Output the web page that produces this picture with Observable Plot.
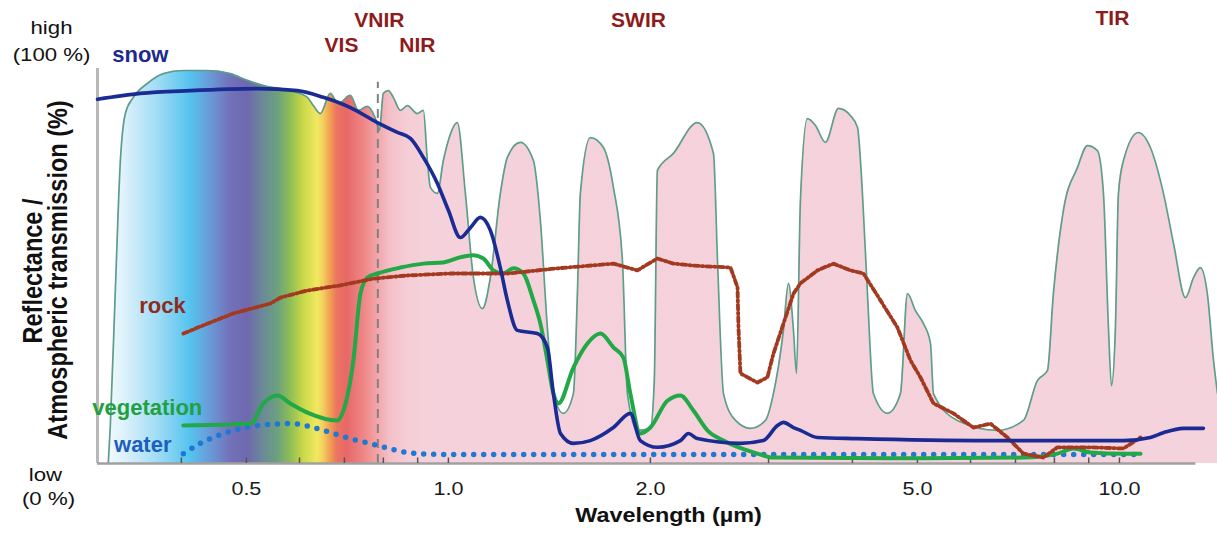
<!DOCTYPE html>
<html><head><meta charset="utf-8">
<script src="https://cdn.jsdelivr.net/npm/d3@7"></script>
<script src="https://cdn.jsdelivr.net/npm/@observablehq/plot@0.6"></script>
<style>
body{margin:0;background:#fff;}
#chart{width:1217px;height:533px;}
</style></head><body><div id="chart"></div>
<script>
// ---------- data (wavelength in µm, value in % of full scale) ----------
const transWl = [0.3113,0.3134,0.3188,0.3245,0.3301,0.3393,0.3559,0.3760,0.4028,0.4372,0.4733,0.5017,0.5300,0.5813,0.6164,0.6292,0.6444,0.6669,0.6857,0.7144,0.7342,0.7573,0.7785,0.7893,0.8000,0.8139,0.8279,0.8480,0.8688,0.8991,0.9178,0.9304,0.9401,0.9630,0.9829,1.000,1.0313,1.0600,1.0896,1.1238,1.1550,1.1953,1.2243,1.2802,1.3387,1.3712,1.4045,1.4338,1.4839,1.5357,1.5569,1.5729,1.6278,1.7022,1.7616,1.8169,1.8484,1.9128,2.000,2.027,2.0487,2.1643,2.3496,2.4834,2.5178,2.5701,2.6783,2.8184,2.9677,3.0506,3.1570,3.2118,3.2677,3.3014,3.3467,3.4277,3.5231,3.6462,3.8131,3.9720,4.0700,4.1400,4.2120,4.2990,4.5114,4.7171,4.8323,4.966,5.105,5.229,5.283,5.735,6.579,7.193,7.546,7.810,7.972,8.251,8.657,8.960,9.272,9.466,9.630,9.730,9.863,9.966,10.14,10.67,11.12,11.63,12.04,12.54,12.90,13.20,13.52,13.81,14.0];
const transVal = [0,9.1,43.0,76.7,88.6,92.7,96.2,98.7,99.5,99.5,98.7,97.0,95.7,94.4,92.7,90.6,88.6,93.7,91.1,93.2,89.4,90.4,87.3,84.3,93.7,94.4,92.7,89.4,90.6,88.6,89.4,76.7,69.9,68.4,76.7,81.8,86.3,68.4,47.1,39.2,47.1,68.4,77.5,81.3,76.7,61.5,34.4,17.7,12.7,17.7,43.0,68.4,82.5,80.0,69.9,51.4,17.7,8.4,8.9,21.0,74.2,78.5,86.3,78.5,51.4,17.7,10.9,8.9,10.9,17.7,33.7,45.6,33.7,22.8,66.6,87.3,85.6,81.3,89.9,88.1,85.1,68.4,43.0,17.7,12.7,17.7,43.0,38.7,35.4,30.4,17.7,10.9,8.4,10.9,21.0,23.5,43.0,64.1,74.9,80.5,79.2,68.4,34.4,19.7,34.4,68.4,76.7,83.8,80.0,68.4,55.7,42.0,47.1,49.6,43.0,26.1,17.7];

const snowWl = [0.300,0.3475,0.4126,0.5192,0.5957,0.6511,0.7144,0.7838,0.8395,0.8778,0.9178,0.9630,1.000,1.042,1.0784,1.116,1.155,1.195,1.2243,1.2670,1.357,1.4045,1.4338,1.469,1.5357,1.6278,1.7616,1.8670,1.932,2.0487,2.217,2.279,2.3496,2.724,2.947,3.093,3.157,3.2677,3.3467,3.548,4.070,6.424,10.14,11.12,11.63,12.46,13.34];
const snowVal = [92.2,93.7,94.4,94.9,94.4,92.7,90.1,86.3,83.8,82.3,77.5,70.9,64.1,57.2,59.7,62.3,59.0,49.6,41.3,33.7,32.9,29.4,17.7,7.6,5.1,5.8,9.1,12.7,5.8,4.1,5.8,7.6,6.3,5.1,5.8,9.6,10.4,9.1,8.4,6.6,6.3,5.8,5.8,6.6,7.8,8.9,8.9];

const vegWl = [0.4028,0.5069,0.5300,0.5562,0.5813,0.6164,0.6831,0.6975,0.7218,0.7395,0.7573,0.7838,0.8480,0.9178,0.9829,1.042,1.0896,1.1276,1.1670,1.2078,1.2500,1.2935,1.3387,1.3712,1.4045,1.4338,1.4586,1.5357,1.6114,1.685,1.7616,1.8231,1.8670,1.932,2.000,2.1205,2.217,2.318,2.432,2.5701,2.887,3.0506,4.558,7.193,8.084,8.538,9.055,10.14,10.75];
const vegVal = [9.6,10.1,15.2,17.2,15.2,12.9,10.9,13.4,26.1,43.0,47.1,48.1,49.6,50.6,50.9,52.2,52.7,51.9,48.9,48.1,49.4,48.1,41.3,35.4,26.1,17.7,15.2,24.3,30.4,32.9,29.4,26.8,17.7,7.6,9.1,15.9,17.2,13.4,8.4,5.8,2.5,1.5,1.3,1.5,2.5,3.8,2.8,2.5,2.5];

const rockWl = [0.4028,0.4372,0.4783,0.5429,0.5618,0.6164,0.6902,0.7730,0.8688,1.0069,1.2243,1.4537,1.7616,1.9128,2.0487,2.1643,2.318,2.633,2.697,2.706,2.724,2.887,2.988,3.0506,3.157,3.2677,3.3467,3.548,3.748,3.972,4.155,4.404,4.669,4.882,5.052,5.283,5.656,6.060,6.424,6.808,7.193,7.703,8.084,9.055,10.14,10.75];
const rockVal = [32.9,35.4,38.0,40.5,42.0,43.8,45.1,46.8,47.6,48.1,48.1,49.4,50.6,48.9,51.9,50.6,50.1,49.6,44.6,34.4,22.8,20.5,21.8,27.8,35.4,43.0,45.6,48.9,50.6,48.9,48.1,41.3,34.4,26.1,21.8,15.2,12.7,9.1,10.1,6.6,2.5,1.5,4.1,4.1,3.8,6.6];

const waterWl = [0.4028,0.4270,0.4623,0.5192,0.5813,0.6511,0.7144,0.7838,0.8688,0.973,2.0,5.0,10.75];
const waterVal = [2.5,5.1,7.6,9.6,10.1,8.4,6.3,4.6,2.8,2.3,2.3,2.3,2.3];

const curveNames = ["snow","rock","vegetation","water"];
const curveLabelWl = [0.3475,0.3748,0.3559,0.3504];
const curveLabelVal = [101.6,38.2,12.2,2.8];

const bandTop = ["VNIR","SWIR","TIR"];
const bandTopWl = [0.789,1.920,9.763];
const bandTopVal = [110.5,110.5,111.1];
const bandLow = ["VIS","NIR"];
const bandLowWl = [0.693,0.899];
const bandLowVal = [104.1,104.1];

const vnirBoundary = [0.785];
const tickValues = [0.4,0.5,0.6,0.7,0.8,0.9,1,2,3,4,5,6,7,8,9,10];
const tickLabelValues = [0.5,1,2,5,10];
const tickLabels = ["0.5","1.0","2.0","5.0","10.0"];

// ---------- tables ----------
const zip = (xs, ys) => xs.map((x, i) => ({wl: x, v: ys[i]}));
const trans = zip(transWl, transVal);
const snow = zip(snowWl, snowVal);
const veg = zip(vegWl, vegVal);
const rock = zip(rockWl, rockVal);
const water = zip(waterWl, waterVal);
const curveLabels = curveNames.map((t, i) => ({t, wl: curveLabelWl[i], v: curveLabelVal[i]}));
const bandsTop = bandTop.map((t, i) => ({t, wl: bandTopWl[i], v: bandTopVal[i]}));
const bandsLow = bandLow.map((t, i) => ({t, wl: bandLowWl[i], v: bandLowVal[i]}));
const ticks = tickLabelValues.map((x, i) => ({x, t: tickLabels[i]}));

// ---------- styles ----------
const FONT = "'Liberation Sans', Arial, Helvetica, sans-serif";
const curveColors = {snow: "#1c2a8e", rock: "#8e2b20", vegetation: "#20a040", water: "#1d5fbf"};
const gradStops = [[0.31,"#f2fafe"],[0.328,"#dff2fb"],[0.368,"#a2ddf5"],[0.413,"#55c3ef"],[0.442,"#6a9ad8"],[0.473,"#7272ba"],[0.502,"#6f68ae"],[0.530,"#6a8a98"],[0.556,"#6ba080"],[0.581,"#8cbc58"],[0.608,"#c8d848"],[0.638,"#f0e860"],[0.651,"#f3d060"],[0.667,"#f0a050"],[0.683,"#eb7460"],[0.707,"#e86868"],[0.747,"#ef8585"],[0.784,"#f2a5a8"],[0.820,"#f4c0c8"],[0.869,"#f5cdd6"],[0.94,"#f5d2db"],[14,"#f5d3dc"]];

// text marks, in order (index used for horizontal stretching below)
const textMarks = [
  Plot.text(curveLabels, {x: "wl", y: "v", text: "t", fill: d => curveColors[d.t], fontWeight: "bold", fontSize: 22, lineAnchor: "bottom"}),
  Plot.text(bandsTop, {x: "wl", y: "v", text: "t", fill: "#8e1b1b", fontWeight: "bold", fontSize: 21, lineAnchor: "bottom"}),
  Plot.text(bandsLow, {x: "wl", y: "v", text: "t", fill: "#8e1b1b", fontWeight: "bold", fontSize: 21, lineAnchor: "bottom"}),
  Plot.text(ticks, {x: "x", text: "t", frameAnchor: "bottom", dy: 31, lineAnchor: "bottom", textAnchor: "middle", fontSize: 18.6, fill: "#1a1a1a"}),
  Plot.text(["high"], {frameAnchor: "top-left", dx: -46, dy: -34.7, textAnchor: "middle", lineAnchor: "bottom", fontSize: 19, fill: "#111"}),
  Plot.text(["(100 %)"], {frameAnchor: "top-left", dx: -46, dy: -7.3, textAnchor: "middle", lineAnchor: "bottom", fontSize: 19, fill: "#111"}),
  Plot.text(["low"], {frameAnchor: "bottom-left", dx: -52, dy: 17, textAnchor: "middle", lineAnchor: "bottom", fontSize: 19, fill: "#111"}),
  Plot.text(["(0 %)"], {frameAnchor: "bottom-left", dx: -49, dy: 41, textAnchor: "middle", lineAnchor: "bottom", fontSize: 19, fill: "#111"}),
  Plot.text(["Wavelength (µm)"], {frameAnchor: "bottom", dx: 11, dy: 58, textAnchor: "middle", lineAnchor: "bottom", fontSize: 19.5, fontWeight: "bold", fill: "#111"}),
  Plot.text(["Reflectance /"], {frameAnchor: "left", dx: -65, dy: 5, rotate: -90, textAnchor: "middle", lineAnchor: "middle", fontSize: 23.5, fontWeight: "bold", fill: "#111"}),
  Plot.text(["Atmospheric transmission (%)"], {frameAnchor: "left", dx: -40, dy: 4, rotate: -90, textAnchor: "middle", lineAnchor: "middle", fontSize: 23.5, fontWeight: "bold", fill: "#111"})
];
const textStretch = [1, 1, 1, 1.16, 1.17, 1.17, 1.17, 1.17, 1.2, 1.19, 1.19];

const chart = Plot.plot({
  width: 1217, height: 533,
  marginLeft: 97, marginRight: 0, marginTop: 68, marginBottom: 70,
  style: {fontFamily: FONT, background: "#fff"},
  x: {type: "log", domain: [0.3, 14], axis: null},
  y: {domain: [0, 100], axis: null},
  marks: [
    Plot.areaY(trans, {x: "wl", y: "v", fill: "url(#specGrad)", curve: "monotone-x"}),
    Plot.lineY(trans, {x: "wl", y: "v", stroke: "#5d9d8b", strokeWidth: 1.7, curve: "monotone-x"}),
    Plot.ruleX(vnirBoundary, {y1: 0, y2: 96.5, stroke: "#808080", strokeWidth: 2, strokeDasharray: "9,6"}),
    Plot.ruleX([0.3], {y1: 0, y2: 100, stroke: "#b8b8b8", strokeWidth: 3}),
    Plot.ruleY([0], {x1: 0.3, x2: 13, stroke: "#a0a0a0", strokeWidth: 2.5}),
    Plot.ruleX(tickValues, {y1: 0, y2: 1.4, stroke: "#555", strokeWidth: 1.5}),
    Plot.lineY(water, {x: "wl", y: "v", stroke: "#1f78d1", strokeWidth: 5.5, strokeDasharray: "0,10", strokeLinecap: "round", curve: "monotone-x"}),
    Plot.lineY(veg, {x: "wl", y: "v", stroke: "#22a847", strokeWidth: 4, curve: "monotone-x", strokeLinejoin: "round"}),
    Plot.lineY(rock, {x: "wl", y: "v", stroke: "#a3391f", strokeWidth: 3.8, strokeDasharray: "5,3,1.5,3", curve: "linear", strokeLinejoin: "round"}),
    Plot.lineY(snow, {x: "wl", y: "v", stroke: "#1b2b94", strokeWidth: 3.6, curve: "monotone-x", strokeLinejoin: "round"}),
    ...textMarks
  ]
});

// gradient definition from the x scale
const xs = chart.scale("x");
const x1 = xs.apply(0.3), x2 = xs.apply(14);
const defs = d3.select(chart).insert("defs", ":first-child");
const grad = defs.append("linearGradient").attr("id", "specGrad")
  .attr("gradientUnits", "userSpaceOnUse").attr("x1", x1).attr("x2", x2).attr("y1", 0).attr("y2", 0);
for (const [wl, c] of gradStops) {
  grad.append("stop").attr("offset", (xs.apply(wl) - x1) / (x2 - x1)).attr("stop-color", c);
}

document.getElementById("chart").appendChild(chart);

// the reference's axis lettering is horizontally stretched: scale each text about its centre
const textGroups = chart.querySelectorAll('g[aria-label="text"]');
textGroups.forEach((grp, k) => {
  const sx = textStretch[k] ?? 1;
  if (sx === 1) return;
  grp.querySelectorAll("text").forEach(t => {
    const g = document.createElementNS("http://www.w3.org/2000/svg", "g");
    t.parentNode.insertBefore(g, t);
    g.appendChild(t);
    const bb = g.getBBox();
    const cx = bb.x + bb.width / 2;
    g.setAttribute("transform", `translate(${cx},0) scale(${sx},1) translate(${-cx},0)`);
  });
});
</script>
</body></html>
